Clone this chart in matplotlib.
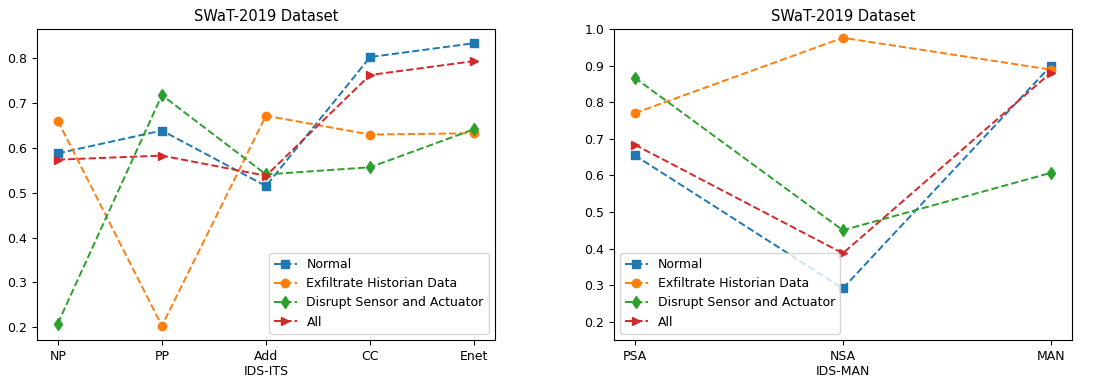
import matplotlib
matplotlib.use("Agg")
import matplotlib.pyplot as plt

its_labels = ["NP", "PP", "Add", "CC", "Enet"]
man_labels = ["PSA", "NSA", "MAN"]
series_names = ["Normal", "Exfiltrate Historian Data", "Disrupt Sensor and Actuator", "All"]

its_normal = [0.588, 0.639, 0.515, 0.803, 0.834]
its_exfil = [0.661, 0.203, 0.672, 0.630, 0.633]
its_disrupt = [0.208, 0.718, 0.541, 0.557, 0.642]
its_all = [0.574, 0.583, 0.538, 0.763, 0.794]

man_normal = [0.655, 0.291, 0.900]
man_exfil = [0.770, 0.976, 0.889]
man_disrupt = [0.867, 0.450, 0.607]
man_all = [0.684, 0.387, 0.881]

markers = ["s", "o", "d", ">"]
colors = ["#1f77b4", "#ff7f0e", "#2ca02c", "#d62728"]

fig = plt.figure(figsize=(11, 3.82), dpi=100)
ax1 = fig.add_axes([0.0336, 0.110, 0.4164, 0.814])
ax2 = fig.add_axes([0.558, 0.110, 0.4164, 0.814])

for vals, name, m, c in zip([its_normal, its_exfil, its_disrupt, its_all], series_names, markers, colors):
    ax1.plot(its_labels, vals, linestyle="--", marker=m, color=c, label=name, lw=1.4, markersize=6)
for vals, name, m, c in zip([man_normal, man_exfil, man_disrupt, man_all], series_names, markers, colors):
    ax2.plot(man_labels, vals, linestyle="--", marker=m, color=c, label=name, lw=1.4, markersize=6)

ax1.set_title("SWaT-2019 Dataset", fontsize=10.5)
ax1.set_xlabel("IDS-ITS", fontsize=9, labelpad=2)
ax1.legend(loc="lower right", fontsize=9, handlelength=1.8)
ax1.set_yticks([0.2, 0.3, 0.4, 0.5, 0.6, 0.7, 0.8])

ax2.set_title("SWaT-2019 Dataset", fontsize=10.5)
ax2.set_xlabel("IDS-MAN", fontsize=9, labelpad=2)
ax2.set_ylim(0.15, 1.0)
ax2.set_yticks([0.2, 0.3, 0.4, 0.5, 0.6, 0.7, 0.8, 0.9, 1.0])
ax2.legend(loc="lower left", fontsize=9, handlelength=1.8)

for ax in (ax1, ax2):
    ax.tick_params(labelsize=9)

fig.savefig("out.png", dpi=100)
